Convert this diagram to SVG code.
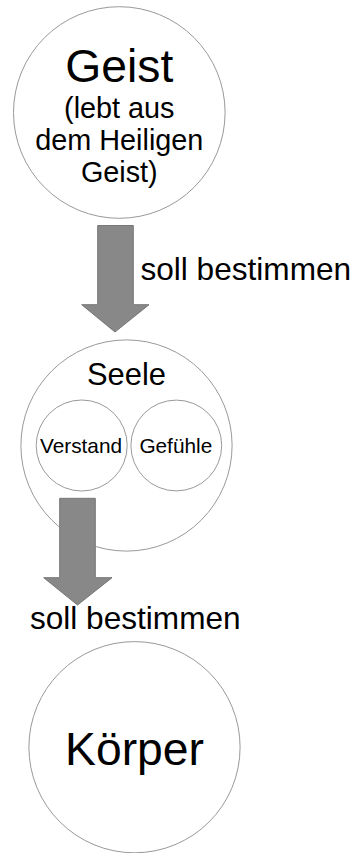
<svg xmlns="http://www.w3.org/2000/svg" width="356" height="853" viewBox="0 0 356 853">
<style>
.c{fill:#fff;stroke:#999;stroke-width:1}
.t{font-family:"Liberation Sans",Arial,sans-serif;fill:#000;text-anchor:middle}
.a{fill:#888;stroke:#777;stroke-width:1}
</style>
<rect width="356" height="853" fill="#fff"/>
<g id="geist">
<circle class="c" cx="119.3" cy="112.5" r="105.8"/>
<text class="t" x="119.3" y="82" font-size="46.3">Geist</text>
<text class="t" x="119.3" y="118" font-size="28.8">(lebt aus</text>
<text class="t" x="119.3" y="150" font-size="28.8">dem Heiligen</text>
<text class="t" x="119.3" y="182" font-size="28.8">Geist)</text>
</g>
<g id="seele">
<circle class="c" cx="126.5" cy="445.5" r="105.6"/>
<text class="t" x="126.5" y="385" font-size="30.9">Seele</text>
</g>
<g id="verstand">
<circle class="c" cx="81.7" cy="445.5" r="45.5"/>
<text class="t" x="81" y="453.3" font-size="20.8">Verstand</text>
</g>
<g id="gefuehle">
<circle class="c" cx="176.3" cy="445.5" r="45.4"/>
<text class="t" x="175.8" y="453.3" font-size="20.8">Gefühle</text>
</g>
<g id="koerper">
<circle class="c" cx="134.5" cy="747.2" r="105.6"/>
<text class="t" x="134.5" y="765" font-size="46.3">Körper</text>
</g>
<g id="connectors">
<path class="a" d="M97.7 225.5 H133.3 V304.7 H149 L115 332 L81.7 304.7 H97.7 Z"/>
<text class="t" x="245.8" y="280" font-size="31.6">soll bestimmen</text>
<path class="a" d="M59.7 498.3 H95.3 V577.7 H112 L77.5 605 L43.7 577.7 H59.7 Z"/>
<text class="t" x="135.3" y="629.3" font-size="31.6">soll bestimmen</text>
</g>
</svg>
